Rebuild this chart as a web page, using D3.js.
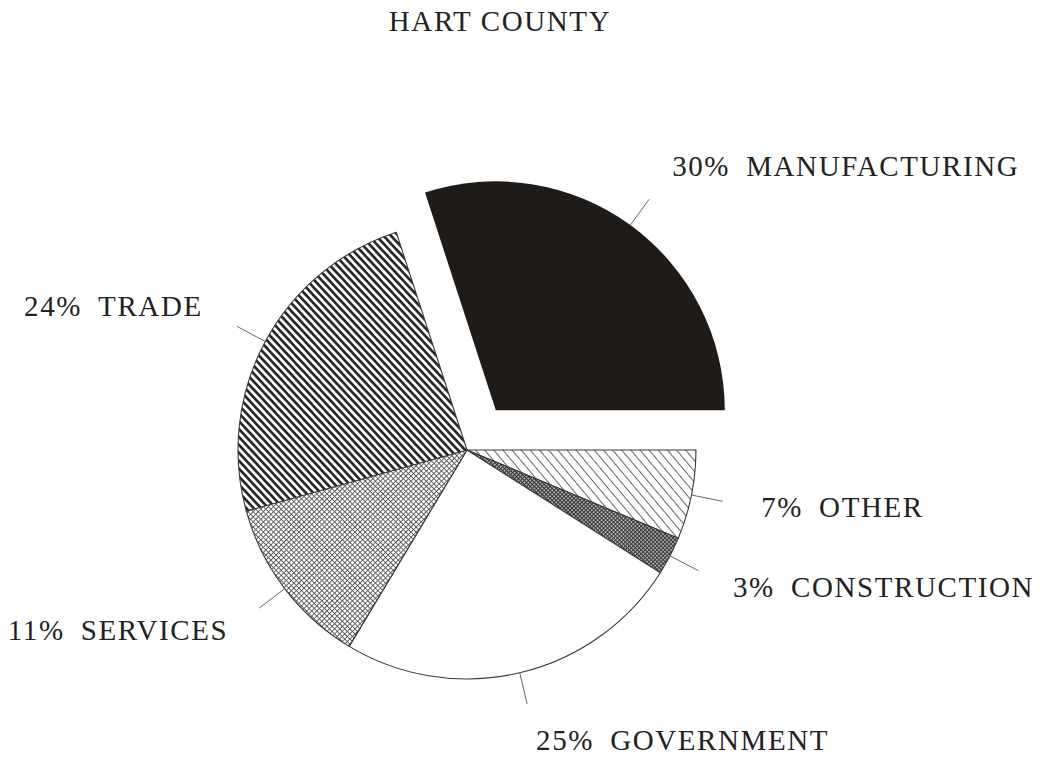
<!DOCTYPE html>
<html>
<head>
<meta charset="utf-8">
<script src="https://cdn.jsdelivr.net/npm/d3@7"></script>
<style>
  body { margin: 0; background: #fff; }
  text { font-family: "Liberation Serif", "Times New Roman", serif; fill: #222; }
</style>
</head>
<body>
<svg width="1043" height="764"></svg>
<script>
      const title = "HART COUNTY";
      // slices in clockwise order, starting at the exploded one
      const sectors = ["MANUFACTURING", "OTHER", "CONSTRUCTION", "GOVERNMENT", "SERVICES", "TRADE"];
      const percentLabels = ["30%", "7%", "3%", "25%", "11%", "24%"];
      // shares
      const shares = [30.0, 6.3, 2.7, 24.6, 12.1, 24.3];
      const fills = ["url(#solid)", "url(#thin)", "url(#dense)", "#fff", "url(#cross)", "url(#stripe)"];

      var svg = d3.select('svg');
      var width = +svg.attr('width');

      var cx = 467, cy = 450, radius = 229;
      var explode = 49, leaderLen = 32, labelR = 300;

      // hatch patterns
      var defs = svg.append('defs');
      defs.append('pattern').attr('id', 'solid')
          .attr('patternUnits', 'userSpaceOnUse').attr('width', 4).attr('height', 4)
        .append('rect').attr('width', 4).attr('height', 4).attr('fill', '#1f1b18');

      var stripe = defs.append('pattern').attr('id', 'stripe')
          .attr('patternUnits', 'userSpaceOnUse').attr('width', 10).attr('height', 5.4)
          .attr('patternTransform', 'rotate(47)');
      stripe.append('rect').attr('width', 10).attr('height', 5.4).attr('fill', '#fff');
      stripe.append('rect').attr('width', 10).attr('height', 2.6).attr('fill', '#222');

      var thin = defs.append('pattern').attr('id', 'thin')
          .attr('patternUnits', 'userSpaceOnUse').attr('width', 10).attr('height', 7)
          .attr('patternTransform', 'rotate(50)');
      thin.append('rect').attr('width', 10).attr('height', 7).attr('fill', '#fff');
      thin.append('rect').attr('width', 10).attr('height', 0.9).attr('fill', '#555');

      var cross = defs.append('pattern').attr('id', 'cross')
          .attr('patternUnits', 'userSpaceOnUse').attr('width', 3.6).attr('height', 3.6)
          .attr('patternTransform', 'rotate(45)');
      cross.append('rect').attr('width', 3.6).attr('height', 3.6).attr('fill', '#fff');
      cross.append('path').attr('d', 'M0,0.45H3.6M0.45,0V3.6')
          .attr('stroke', '#5a5a5a').attr('stroke-width', 0.9);

      var dense = defs.append('pattern').attr('id', 'dense')
          .attr('patternUnits', 'userSpaceOnUse').attr('width', 2.8).attr('height', 2.8)
          .attr('patternTransform', 'rotate(45)');
      dense.append('rect').attr('width', 2.8).attr('height', 2.8).attr('fill', '#ddd');
      dense.append('path').attr('d', 'M0,0.6H2.8M0.6,0V2.8')
          .attr('stroke', '#333').attr('stroke-width', 1.3);

      var pie = d3.pie()
        .sort(null)
        .value(d => d)
        .startAngle(-18 * Math.PI / 180)
        .endAngle(342 * Math.PI / 180);

      var arc = d3.arc().innerRadius(0).outerRadius(radius);

      var arcs = pie(shares);

      // centre of each slice (the first one is pulled out)
      function origin(d, i) {
        var m = (d.startAngle + d.endAngle) / 2;
        var off = i === 0 ? explode : 0;
        return [cx + off * Math.sin(m), cy - off * Math.cos(m)];
      }

      var g = svg.append('g');

      g.selectAll('path.slice').data(arcs)
        .enter().append('path')
          .attr('class', 'slice')
          .attr('transform', (d, i) => `translate(${origin(d, i)})`)
          .attr('d', arc)
          .attr('fill', (d, i) => fills[i])
          .attr('stroke', (d, i) => i === 0 ? 'none' : '#3a3a3a')
          .attr('stroke-width', 1.1)
          .attr('stroke-linejoin', 'round');

      // leader lines
      g.selectAll('line.leader').data(arcs)
        .enter().append('line')
          .attr('class', 'leader')
          .each(function (d, i) {
            var o = origin(d, i);
            var m = (d.startAngle + d.endAngle) / 2;
            d3.select(this)
              .attr('x1', o[0] + radius * Math.sin(m))
              .attr('y1', o[1] - radius * Math.cos(m))
              .attr('x2', o[0] + (radius + leaderLen) * Math.sin(m))
              .attr('y2', o[1] - (radius + leaderLen) * Math.cos(m));
          })
          .attr('stroke', '#666')
          .attr('stroke-width', 1);

      // labels
      g.selectAll('text.label').data(arcs)
        .enter().append('text')
          .attr('class', 'label')
          .each(function (d, i) {
            var o = origin(d, i);
            var m = (d.startAngle + d.endAngle) / 2;
            d3.select(this)
              .attr('x', o[0] + labelR * Math.sin(m))
              .attr('y', o[1] - labelR * Math.cos(m) + 8)
              .attr('text-anchor', Math.sin(m) > 0 ? 'start' : 'end');
          })
          .style('font-size', '29px')
          .style('letter-spacing', '1.6px')
          .text((d, i) => percentLabels[i] + '\u2002' + sectors[i]);

      svg.append('text')
          .attr('x', 500)
          .attr('y', 31)
          .attr('text-anchor', 'middle')
          .style('font-size', '29px')
          .style('letter-spacing', '1.6px')
          .text(title);
</script>
</body>
</html>
